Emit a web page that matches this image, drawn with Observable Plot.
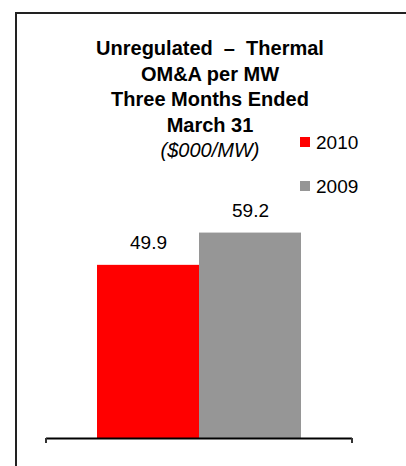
<!DOCTYPE html>
<html>
<head>
<meta charset="utf-8">
<script src="https://cdn.jsdelivr.net/npm/d3@7"></script>
<script src="https://cdn.jsdelivr.net/npm/@observablehq/plot@0.6"></script>
<style>
  html, body { margin: 0; padding: 0; background: #fff; }
  body { width: 406px; height: 466px; position: relative; overflow: hidden; font-family: "Liberation Sans", Arial, sans-serif; }
  #border { position: absolute; left: 15px; top: 12px; width: 420px; height: 480px; border-left: 2px solid #222; border-top: 2px solid #222; box-sizing: border-box; }
  #chart { position: absolute; left: 0; top: 0; }
  #title { position: absolute; left: 0; width: 420px; top: 36px; text-align: center; font-size: 20px; line-height: 25.5px; color: #000; }
  #title .b { font-weight: bold; }
  #title .i { font-style: italic; }
  #legend { position: absolute; left: 300px; top: 0; font-size: 19px; color: #000; }
  .item { position: absolute; left: 0; white-space: nowrap; }
  .sw { position: absolute; left: 0; width: 10px; height: 10px; }
  .lab { position: absolute; left: 16px; line-height: 19px; }
</style>
</head>
<body>
<div id="border"></div>
<div id="chart"></div>
<div id="title"></div>
<div id="legend"></div>
<script>
const titleLines = ["Unregulated  \u2013  Thermal", "OM&A per MW", "Three Months Ended", "March 31"];
const subtitle = "($000/MW)";
const categories = ["2010", "2009"];
const values = [49.9, 59.2];
const colors = ["#ff0000", "#969696"];
const labels = ["49.9", "59.2"];

const data = categories.map((c, i) => ({category: c, value: values[i], label: labels[i]}));

const endTicks = (index, scales, values, dims) => {
  const g = d3.create("svg:g");
  const y0 = scales.y(0);
  for (const x of [dims.marginLeft, dims.width - dims.marginRight]) {
    g.append("line").attr("x1", x).attr("x2", x).attr("y1", y0).attr("y2", y0 + 5)
      .attr("stroke", "#333").attr("stroke-width", 2);
  }
  return g.node();
};

const chart = Plot.plot({
  width: 406,
  height: 466,
  marginLeft: 46,
  marginRight: 54,
  marginTop: 91,
  marginBottom: 28,
  style: {fontFamily: "'Liberation Sans', Arial, sans-serif", background: "transparent"},
  x: {domain: categories, paddingInner: 0, paddingOuter: 0.5, axis: null},
  y: {domain: [0, 100], axis: null},
  color: {domain: categories, range: colors},
  marks: [
    Plot.barY(data, {x: "category", y: "value", fill: "category"}),
    Plot.text(data, {x: "category", y: "value", text: "label", lineAnchor: "bottom", dy: -16, fontSize: 19, fill: "#000"}),
    Plot.ruleY([0], {stroke: "#000", strokeWidth: 2}),
    endTicks
  ]
});
document.getElementById("chart").appendChild(chart);

const t = document.getElementById("title");
t.innerHTML = titleLines.map(l => `<div class="b">${l.replace(/&/g, "&amp;").replace(/  /g, "&nbsp; ")}</div>`).join("") + `<div class="i">${subtitle}</div>`;

const lg = document.getElementById("legend");
const tops = [137, 181];
categories.forEach((c, i) => {
  const item = document.createElement("div");
  item.className = "item";
  item.style.top = tops[i] + "px";
  item.innerHTML = `<div class="sw" style="background:${colors[i]};top:0"></div><div class="lab" style="top:-4px">${c}</div>`;
  lg.appendChild(item);
});
</script>
</body>
</html>
